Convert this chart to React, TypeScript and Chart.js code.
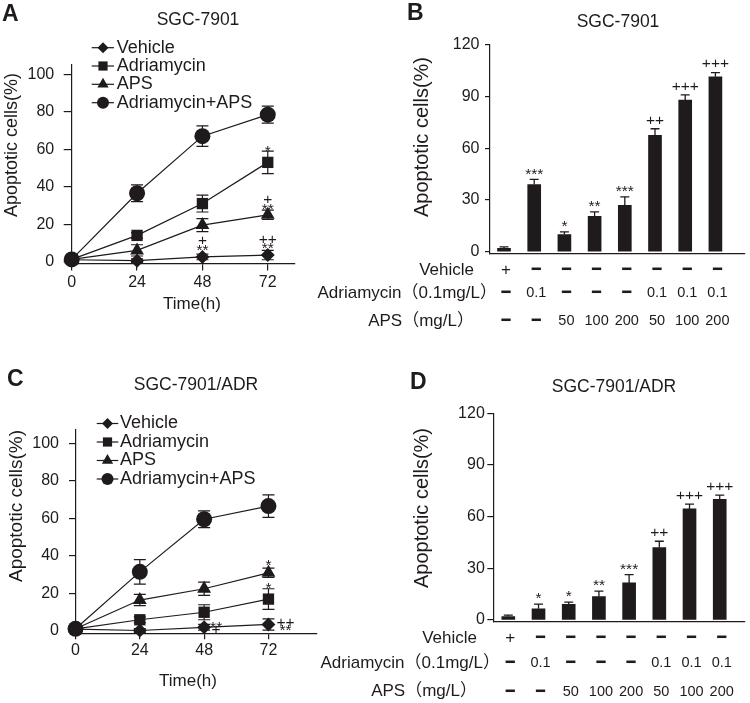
import React, { useEffect, useRef } from 'react';
import { Chart, registerables } from 'chart.js';
import { drawPoint } from 'chart.js/helpers';

Chart.register(...registerables);

const FONT = '"Liberation Sans", Arial, "Noto Sans CJK SC", sans-serif';
const CJK = '"Liberation Sans", "Noto Sans CJK SC", sans-serif';
const INK = '#1f1a1b';

// ---------------- data ----------------
const TIME_H = [0, 24, 48, 72];
const TIME_TICKS = [0, 24, 48, 72];
const LINE_Y_TICKS = [0, 20, 40, 60, 80, 100];
const BAR_Y_TICKS = [0, 30, 60, 90, 120];
const SERIES_NAMES = ['Vehicle', 'Adriamycin', 'APS', 'Adriamycin+APS'];

// Panel A: SGC-7901 time course
const A_VEHICLE = [1, 0.5, 2.5, 3.5];
const A_VEHICLE_ERR = [1, 1, 1.5, 2.5];
const A_ADR = [1.2, 14, 31, 53];
const A_ADR_ERR = [1, 1.5, 4.5, 6];
const A_APS = [1.2, 6, 19.5, 25];
const A_APS_ERR = [1, 3, 3.5, 2.5];
const A_COMBO = [1.2, 36.5, 67, 78.5];
const A_COMBO_ERR = [1, 4.5, 5.5, 4.5];

// Panel C: SGC-7901/ADR time course
const C_VEHICLE = [1, 0.3, 2, 3.5];
const C_VEHICLE_ERR = [1, 1, 1.5, 3];
const C_ADR = [1.2, 6, 10, 17];
const C_ADR_ERR = [1, 1.5, 4, 5.5];
const C_APS = [1.2, 16.5, 22.5, 31];
const C_APS_ERR = [1, 3, 3.5, 2.5];
const C_COMBO = [1.2, 31.5, 59.5, 66.5];
const C_COMBO_ERR = [1, 6.5, 4.5, 6];

// Panels B / D: dose groups
const GROUP_INDEX = [0, 1, 2, 3, 4, 5, 6, 7];
const VEHICLE_ROW = ['+', '━', '━', '━', '━', '━', '━', '━'];
const ADR_ROW = ['━', '0.1', '━', '━', '━', '0.1', '0.1', '0.1'];
const APS_ROW = ['━', '━', '50', '100', '200', '50', '100', '200'];
const ROW_NAMES = ['Vehicle', 'Adriamycin（0.1mg/L）', 'APS（mg/L）'];

const B_VALUES = [2, 39, 10, 20.5, 27, 67.5, 88, 101.5];
const B_ERR = [0.8, 3, 1.5, 2.7, 4.8, 3.9, 3, 2.5];
const B_SIG = ['', '***', '*', '**', '***', '++', '+++', '+++'];

const D_VALUES = [2, 6.5, 9, 13.5, 21.5, 42, 64.5, 70];
const D_ERR = [0.8, 2.7, 1.3, 3.2, 4.8, 3.7, 2.8, 2.5];
const D_SIG = ['', '*', '*', '**', '***', '++', '+++', '+++'];

// ---------------- helpers ----------------
const MARKERS = [
  { style: 'rectRot', radius: 7, legendRadius: 5.5 },
  { style: 'rect', radius: 8, legendRadius: 6.5 },
  { style: 'triangle', radius: 8, legendRadius: 6.5 },
  { style: 'circle', radius: 8, legendRadius: 6 },
];

function text(ctx: CanvasRenderingContext2D, s: string, x: number, y: number, size: number, align: CanvasTextAlign = 'center', weight = 'normal', family = FONT) {
  ctx.save();
  ctx.font = `${weight} ${size}px ${family}`;
  ctx.fillStyle = INK;
  ctx.textAlign = align;
  ctx.textBaseline = 'middle';
  ctx.fillText(s, x, y);
  ctx.restore();
}

function vtext(ctx: CanvasRenderingContext2D, s: string, x: number, y: number, size: number) {
  ctx.save();
  ctx.translate(x, y);
  ctx.rotate(-Math.PI / 2);
  ctx.font = `${size}px ${FONT}`;
  ctx.fillStyle = INK;
  ctx.textAlign = 'center';
  ctx.textBaseline = 'middle';
  ctx.fillText(s, 0, 0);
  ctx.restore();
}

// draw a significance mark with its visual centre at (x, y)
function sig(ctx: CanvasRenderingContext2D, s: string, x: number, y: number, size: number) {
  const shift = s.includes('*') ? 0.22 * size : 0;
  text(ctx, s, x, y + shift, size);
}

function axis(tickLen: number, tickPad: number, marks: boolean, showLabels = true) {
  return {
    grid: { display: marks, drawOnChartArea: false, drawTicks: true, tickLength: tickLen, color: INK, lineWidth: 1.2 },
    border: { display: true, color: INK, width: 1.2 },
    ticks: { display: showLabels, font: { family: FONT, size: 16 }, color: INK, padding: tickPad, autoSkip: false, maxRotation: 0 },
  };
}

type Ann = { ds: number; i: number; text: string; dx: number; dy: number };

interface LinePanelCfg {
  values: number[][];
  errs: number[][];
  area: { left: number; top: number; right: number; bottom: number };
  yMin: number; yMax: number; xMax: number;
  yTick: [number, number]; xTick: [number, number];
  title: string; titlePos: [number, number];
  letter: string; letterPos: [number, number];
  yTitlePos: [number, number]; yTitleSize: number;
  xTitlePos: [number, number];
  legendX: [number, number, number, number];
  legendRows: number[];
  anns: Ann[];
}

function lineConfig(p: LinePanelCfg): any {
  const YW = 50, XH = 30;
  const plugin = {
    id: 'lineDeco',
    beforeDatasetsDraw(chart: any) {
      const ctx = chart.ctx as CanvasRenderingContext2D;
      const xs = chart.scales.x, ys = chart.scales.y;
      ctx.save();
      ctx.strokeStyle = INK;
      ctx.lineWidth = 1.2;
      const cap = 6;
      p.values.forEach((vals, si) => vals.forEach((v, i) => {
        const e = p.errs[si][i];
        const x = xs.getPixelForValue(TIME_H[i]);
        const y1 = ys.getPixelForValue(v + e), y2 = ys.getPixelForValue(v - e);
        ctx.beginPath();
        ctx.moveTo(x, y1); ctx.lineTo(x, y2);
        ctx.moveTo(x - cap, y1); ctx.lineTo(x + cap, y1);
        ctx.moveTo(x - cap, y2); ctx.lineTo(x + cap, y2);
        ctx.stroke();
      }));
      ctx.restore();
    },
    afterDraw(chart: any) {
      const ctx = chart.ctx as CanvasRenderingContext2D;
      const xs = chart.scales.x, ys = chart.scales.y;
      text(ctx, p.title, p.titlePos[0], p.titlePos[1], 17.5);
      text(ctx, p.letter, p.letterPos[0], p.letterPos[1], 23, 'left', 'bold');
      vtext(ctx, 'Apoptotic cells(%)', p.yTitlePos[0], p.yTitlePos[1], p.yTitleSize);
      text(ctx, 'Time(h)', p.xTitlePos[0], p.xTitlePos[1], 17);
      // legend
      const [x1, x2, xm, xt] = p.legendX;
      SERIES_NAMES.forEach((name, si) => {
        const y = p.legendRows[si];
        ctx.save();
        ctx.strokeStyle = INK; ctx.lineWidth = 1.2;
        ctx.beginPath(); ctx.moveTo(x1, y); ctx.lineTo(x2, y); ctx.stroke();
        ctx.fillStyle = INK;
        drawPoint(ctx, { pointStyle: MARKERS[si].style as any, radius: MARKERS[si].legendRadius, rotation: 0, borderWidth: 0 } as any, xm, y);
        ctx.restore();
        text(ctx, name, xt, y, 18, 'left');
      });
      // significance marks
      p.anns.forEach(a => {
        const x = xs.getPixelForValue(TIME_H[a.i]) + a.dx;
        const y = ys.getPixelForValue(p.values[a.ds][a.i]) + a.dy;
        sig(ctx, a.text, x, y, 15.5);
      });
    },
  };
  return {
    type: 'line',
    data: {
      datasets: p.values.map((vals, si) => ({
        label: SERIES_NAMES[si],
        data: TIME_H.map((t, i) => ({ x: t, y: vals[i] })),
        borderColor: INK,
        backgroundColor: INK,
        borderWidth: 1.2,
        pointStyle: MARKERS[si].style,
        pointRadius: MARKERS[si].radius,
        pointBackgroundColor: INK,
        pointBorderColor: INK,
        pointBorderWidth: 0,
        tension: 0,
        clip: false,
      })),
    },
    options: {
      responsive: false,
      animation: false,
      devicePixelRatio: 1,
      events: [],
      layout: {
        padding: {
          left: p.area.left - YW,
          top: p.area.top,
          right: 750 - p.area.right,
          bottom: 703 - p.area.bottom - XH,
        },
      },
      plugins: { legend: { display: false }, tooltip: { enabled: false } },
      scales: {
        x: {
          type: 'linear', min: 0, max: p.xMax, offset: false,
          afterBuildTicks: (s: any) => { s.ticks = TIME_TICKS.map(v => ({ value: v })); },
          afterFit: (s: any) => { s.height = XH; },
          ...axis(p.xTick[0], p.xTick[1], true),
        },
        y: {
          type: 'linear', min: p.yMin, max: p.yMax,
          afterBuildTicks: (s: any) => { s.ticks = LINE_Y_TICKS.map(v => ({ value: v })); },
          afterFit: (s: any) => { s.width = YW; },
          ...axis(p.yTick[0], p.yTick[1], true),
        },
      },
    },
    plugins: [plugin],
  };
}

interface BarPanelCfg {
  values: number[]; errs: number[]; sigs: string[];
  area: { left: number; top: number; right: number; bottom: number };
  yMin: number; yMax: number; xMin: number; xMax: number;
  yTick: [number, number];
  title: string; titlePos: [number, number];
  letter: string; letterPos: [number, number];
  yTitlePos: [number, number]; yTitleSize: number;
  rowNameRight: [number, number, number];
  rowY: [number, number, number];
}

function barConfig(p: BarPanelCfg): any {
  const YW = 50;
  const plugin = {
    id: 'barDeco',
    afterDatasetsDraw(chart: any) {
      const ctx = chart.ctx as CanvasRenderingContext2D;
      const xs = chart.scales.x, ys = chart.scales.y;
      ctx.save();
      ctx.strokeStyle = INK;
      ctx.lineWidth = 1.3;
      const cap = 4.5;
      p.values.forEach((v, i) => {
        const x = xs.getPixelForValue(GROUP_INDEX[i]);
        const y0 = ys.getPixelForValue(v);
        const y1 = ys.getPixelForValue(v + p.errs[i]);
        ctx.beginPath();
        ctx.moveTo(x, y0); ctx.lineTo(x, y1);
        ctx.moveTo(x - cap, y1); ctx.lineTo(x + cap, y1);
        ctx.stroke();
      });
      ctx.restore();
    },
    afterDraw(chart: any) {
      const ctx = chart.ctx as CanvasRenderingContext2D;
      const xs = chart.scales.x, ys = chart.scales.y;
      text(ctx, p.title, p.titlePos[0], p.titlePos[1], 17.5);
      text(ctx, p.letter, p.letterPos[0], p.letterPos[1], 23, 'left', 'bold');
      vtext(ctx, 'Apoptotic cells(%)', p.yTitlePos[0], p.yTitlePos[1], p.yTitleSize);
      p.sigs.forEach((s, i) => {
        if (!s) return;
        const x = xs.getPixelForValue(GROUP_INDEX[i]);
        const y = ys.getPixelForValue(p.values[i] + p.errs[i]) - 8.5;
        sig(ctx, s, x, y, 15.5);
      });
      ROW_NAMES.forEach((name, r) => {
        text(ctx, name, p.rowNameRight[r], p.rowY[r], 17, 'right', 'normal', CJK);
      });
      [VEHICLE_ROW, ADR_ROW, APS_ROW].forEach((row, r) => {
        row.forEach((s, i) => {
          const x = xs.getPixelForValue(GROUP_INDEX[i]) + 2;
          if (s === '━') text(ctx, s, x, p.rowY[r], 15, 'center', 'normal', '"DejaVu Sans", sans-serif');
          else if (s === '+') text(ctx, s, x, p.rowY[r], 17);
          else text(ctx, s, x, p.rowY[r], 14.5);
        });
      });
    },
  };
  return {
    type: 'bar',
    data: {
      datasets: [{
        label: 'Apoptotic cells',
        data: GROUP_INDEX.map((g, i) => ({ x: g, y: p.values[i] })),
        backgroundColor: INK,
        borderWidth: 0,
        barThickness: 13,
      }],
    },
    options: {
      responsive: false,
      animation: false,
      devicePixelRatio: 1,
      events: [],
      layout: {
        padding: {
          left: p.area.left - YW,
          top: p.area.top,
          right: 750 - p.area.right,
          bottom: 703 - p.area.bottom,
        },
      },
      plugins: { legend: { display: false }, tooltip: { enabled: false } },
      scales: {
        x: {
          type: 'linear', min: p.xMin, max: p.xMax, offset: false,
          afterFit: (s: any) => { s.height = 0; },
          ...axis(0, 0, false, false),
        },
        y: {
          type: 'linear', min: p.yMin, max: p.yMax,
          afterBuildTicks: (s: any) => { s.ticks = BAR_Y_TICKS.map(v => ({ value: v })); },
          afterFit: (s: any) => { s.width = YW; },
          ...axis(p.yTick[0], p.yTick[1], true),
        },
      },
    },
    plugins: [plugin],
  };
}

// ---------------- panels ----------------
const panelA = () => lineConfig({
  values: [A_VEHICLE, A_ADR, A_APS, A_COMBO],
  errs: [A_VEHICLE_ERR, A_ADR_ERR, A_APS_ERR, A_COMBO_ERR],
  area: { left: 71.7, top: 65, right: 295, bottom: 263.5 },
  yMin: -1, yMax: 105, xMax: 82,
  yTick: [8, 9.5], xTick: [7, 2],
  title: 'SGC-7901', titlePos: [198, 20],
  letter: 'A', letterPos: [2, 15],
  yTitlePos: [12, 145], yTitleSize: 18,
  xTitlePos: [192, 304],
  legendX: [91.7, 114, 103, 116.7],
  legendRows: [47.7, 66, 84.3, 102.7],
  anns: [
    { ds: 1, i: 3, text: '*', dx: 0, dy: -14 },
    { ds: 2, i: 3, text: '**', dx: 0, dy: -8.5 },
    { ds: 2, i: 3, text: '+', dx: 0, dy: -15 },
    { ds: 0, i: 2, text: '**', dx: 0, dy: -10 },
    { ds: 0, i: 2, text: '+', dx: 0, dy: -16 },
    { ds: 0, i: 3, text: '**', dx: 0, dy: -10 },
    { ds: 0, i: 3, text: '++', dx: 0, dy: -15 },
  ],
});

const panelC = () => lineConfig({
  values: [C_VEHICLE, C_ADR, C_APS, C_COMBO],
  errs: [C_VEHICLE_ERR, C_ADR_ERR, C_APS_ERR, C_COMBO_ERR],
  area: { left: 75.5, top: 430, right: 316.7, bottom: 633.3 },
  yMin: -1.2, yMax: 107, xMax: 90,
  yTick: [6.5, 10], xTick: [6, 2],
  title: 'SGC-7901/ADR', titlePos: [196, 385],
  letter: 'C', letterPos: [7, 380],
  yTitlePos: [16.5, 506], yTitleSize: 19,
  xTitlePos: [188, 681],
  legendX: [96.7, 118.3, 107.5, 120],
  legendRows: [423.5, 442, 460.5, 479],
  anns: [
    { ds: 2, i: 3, text: '*', dx: 0, dy: -10 },
    { ds: 1, i: 3, text: '*', dx: 0, dy: -13.6 },
    { ds: 0, i: 2, text: '**', dx: 12, dy: -3.3 },
    { ds: 0, i: 2, text: '+', dx: 12, dy: 2.3 },
    { ds: 0, i: 3, text: '++', dx: 17, dy: -1.7 },
    { ds: 0, i: 3, text: '**', dx: 17, dy: 3.3 },
  ],
});

const panelB = () => barConfig({
  values: B_VALUES, errs: B_ERR, sigs: B_SIG,
  area: { left: 490, top: 45, right: 745, bottom: 253.3 },
  yMin: -0.9, yMax: 120, xMin: -0.464, xMax: 7.98,
  yTick: [5, 5.5],
  title: 'SGC-7901', titlePos: [618, 22],
  letter: 'B', letterPos: [407, 14],
  yTitlePos: [422, 137], yTitleSize: 20,
  rowNameRight: [474, 497, 474],
  rowY: [270, 293.3, 321],
});

const panelD = () => barConfig({
  values: D_VALUES, errs: D_ERR, sigs: D_SIG,
  area: { left: 493.3, top: 413.3, right: 745, bottom: 621.5 },
  yMin: -0.9, yMax: 120, xMin: -0.497, xMax: 7.837,
  yTick: [6, 2.5],
  title: 'SGC-7901/ADR', titlePos: [614, 387],
  letter: 'D', letterPos: [410, 383],
  yTitlePos: [422, 508], yTitleSize: 20,
  rowNameRight: [477, 500, 477],
  rowY: [638.3, 663.3, 691.7],
});

function ChartCanvas({ make }: { make: () => any }) {
  const ref = useRef<HTMLCanvasElement>(null);
  useEffect(() => {
    const chart = new Chart(ref.current as HTMLCanvasElement, make());
    return () => chart.destroy();
  }, [make]);
  return (
    <canvas
      ref={ref}
      width={750}
      height={703}
      style={{ position: 'absolute', left: 0, top: 0, width: 750, height: 703 }}
    />
  );
}

export default function App() {
  return (
    <div style={{ position: 'fixed', left: 0, top: 0, width: 750, height: 703, background: '#fff', overflow: 'hidden' }}>
      <ChartCanvas make={panelA} />
      <ChartCanvas make={panelB} />
      <ChartCanvas make={panelC} />
      <ChartCanvas make={panelD} />
    </div>
  );
}
